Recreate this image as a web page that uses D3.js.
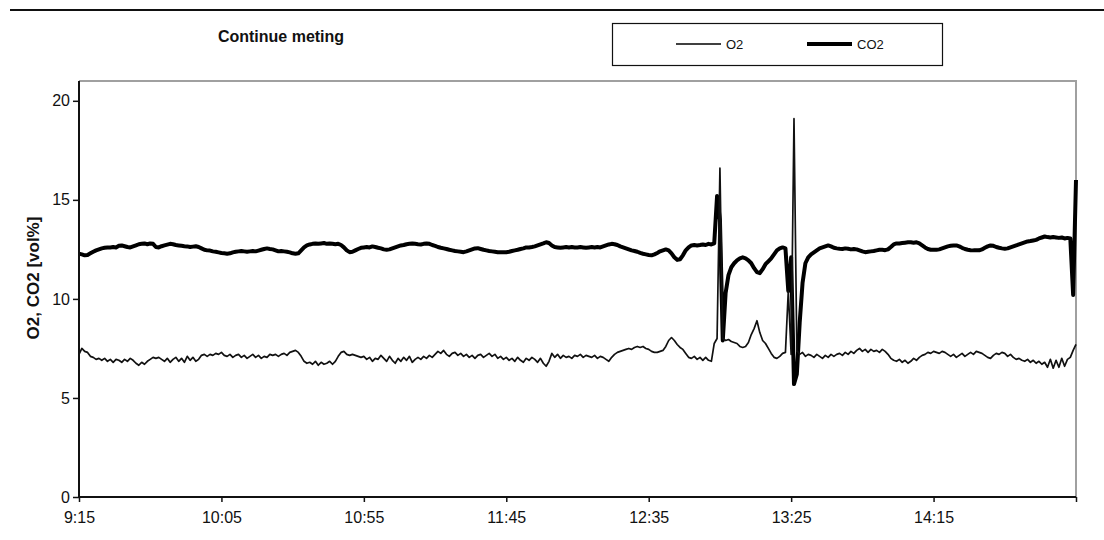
<!DOCTYPE html>
<html>
<head>
    <meta charset="utf-8">
    <title>Continue meting</title>
    <script src="https://d3js.org/d3.v7.min.js"></script>
    <style>
        body { margin: 0; background: #fff; }
        text { font-family: "Liberation Sans", Arial, sans-serif; fill: #111; }
    </style>
</head>

<body>
<div id="chart"></div>
<script type="text/javascript">

    // one reading per minute from 9:15 (minute 0) to 15:05 (minute 350)
    let tickMinutes = [0, 50, 100, 150, 200, 250, 300, 350];
    let tickLabels = ["9:15", "10:05", "10:55", "11:45", "12:35", "13:25", "14:15", ""];
    let yTicks = [0, 5, 10, 15, 20];

    let o2 = [
        7.2, 7.5, 7.35, 7.3, 7.1, 7.05, 6.95, 7.0, 6.9, 7.0, 6.85, 6.95, 6.8, 6.95, 6.9, 6.8, 6.95, 6.85, 7.0, 6.9,
        6.75, 6.65, 6.8, 6.7, 6.85, 6.95, 7.05, 7.0, 7.05, 6.95, 6.85, 7.0, 6.8, 6.95, 7.05, 6.85, 7.0, 6.8, 7.1, 6.9,
        7.05, 6.85, 6.95, 7.15, 7.2, 7.1, 7.2, 7.15, 7.25, 7.2, 7.3, 7.15, 7.1, 7.2, 7.05, 7.15, 7.2, 7.05, 7.15, 7.0,
        7.1, 7.2, 7.05, 7.15, 7.0, 7.1, 7.05, 7.2, 7.15, 7.2, 7.1, 7.2, 7.25, 7.15, 7.3, 7.35, 7.4, 7.3, 7.1, 6.85,
        6.75, 6.8, 6.7, 6.85, 6.65, 6.8, 6.7, 6.75, 6.85, 6.7, 6.85, 7.1, 7.3, 7.35, 7.2, 7.15, 7.2, 7.15, 7.1, 7.05,
        7.1, 6.95, 7.05, 6.85, 7.0, 6.95, 7.15, 7.0, 6.85, 7.1, 6.9, 6.75, 7.0, 6.85, 7.05, 6.9, 7.1, 6.8, 6.95, 7.05,
        6.95, 7.1, 7.0, 7.15, 7.05, 7.2, 7.35, 7.25, 7.4, 7.2, 7.1, 7.25, 7.3, 7.15, 7.25, 7.1, 7.2, 7.05, 7.15, 7.0,
        7.15, 7.2, 7.05, 7.15, 7.25, 7.1, 7.2, 7.0, 7.1, 6.95, 7.05, 6.9, 7.0, 6.85, 7.05, 6.9, 6.8, 7.0, 6.9, 7.05,
        6.95, 6.8, 7.0, 6.75, 6.6, 6.85, 7.25, 7.05, 7.2, 7.0, 7.15, 7.05, 7.1, 7.0, 7.15, 7.1, 7.2, 7.05, 7.15, 7.1,
        7.05, 7.15, 7.0, 7.1, 7.05, 6.95, 6.85, 7.05, 7.2, 7.3, 7.35, 7.4, 7.45, 7.5, 7.45, 7.55, 7.6, 7.55, 7.6, 7.5,
        7.45, 7.35, 7.3, 7.3, 7.35, 7.4, 7.6, 7.9, 8.05, 7.9, 7.7, 7.55, 7.45, 7.25, 7.05, 7.0, 7.1, 6.95, 7.05, 6.9,
        7.05, 6.9, 6.85, 7.75, 8.0, 16.6, 8.0, 7.9, 7.95, 7.85, 7.8, 7.75, 7.6, 7.55, 7.6, 7.8, 8.2, 8.5, 8.9, 8.3,
        7.9, 7.75, 7.5, 7.25, 7.05, 7.0, 7.1, 7.25, 7.3, 10.4, 7.2, 19.1, 7.4, 7.2, 7.3, 7.1, 7.2, 7.15, 7.05, 7.2,
        7.1, 7.0, 7.15, 7.05, 7.2, 7.1, 7.2, 7.25, 7.15, 7.3, 7.2, 7.35, 7.25, 7.4, 7.5, 7.35, 7.45, 7.3, 7.45, 7.35,
        7.4, 7.3, 7.45, 7.35, 7.2, 7.0, 6.9, 6.85, 6.95, 6.8, 6.9, 6.75, 6.85, 7.0, 6.9, 7.05, 7.15, 7.2, 7.3, 7.25,
        7.35, 7.3, 7.25, 7.35, 7.3, 7.2, 7.1, 7.2, 7.05, 7.15, 7.25, 7.1, 7.2, 7.3, 7.2, 7.35, 7.3, 7.25, 7.15, 7.05,
        7.0, 7.15, 7.25, 7.2, 7.3, 7.25, 7.1, 7.2, 7.05, 6.95, 7.0, 6.9, 6.85, 6.95, 6.8, 6.9, 6.75, 6.85, 6.7, 6.8,
        6.55, 6.95, 6.5, 6.9, 6.55, 7.0, 6.6, 6.95, 7.05, 7.4, 7.7
    ];

    let co2 = [
        12.28, 12.25, 12.2, 12.22, 12.3, 12.38, 12.45, 12.5, 12.55, 12.58, 12.6, 12.6, 12.62, 12.6, 12.68, 12.7, 12.66, 12.62, 12.6, 12.65,
        12.7, 12.76, 12.78, 12.8, 12.76, 12.8, 12.78, 12.62, 12.6, 12.66, 12.7, 12.74, 12.78, 12.76, 12.72, 12.7, 12.68, 12.66, 12.65, 12.62,
        12.64, 12.66, 12.62, 12.55, 12.48, 12.45, 12.44, 12.4, 12.38, 12.35, 12.32, 12.3, 12.28, 12.3, 12.35, 12.38, 12.4, 12.42, 12.4, 12.38,
        12.4, 12.42, 12.4, 12.44, 12.48, 12.52, 12.55, 12.52, 12.5, 12.45, 12.4, 12.42, 12.4, 12.38, 12.35, 12.3, 12.28, 12.3, 12.45, 12.6,
        12.7, 12.75, 12.78, 12.8, 12.78, 12.8, 12.82, 12.78, 12.8, 12.78, 12.76, 12.78, 12.72, 12.6, 12.45, 12.36, 12.38, 12.45, 12.52, 12.58,
        12.6, 12.62, 12.6, 12.65, 12.62, 12.58, 12.55, 12.5, 12.48, 12.5, 12.55, 12.6, 12.65, 12.7, 12.72, 12.76, 12.78, 12.8, 12.78, 12.76,
        12.75, 12.78, 12.8, 12.78, 12.72, 12.68, 12.62, 12.58, 12.55, 12.52, 12.48, 12.45, 12.42, 12.4, 12.38, 12.36, 12.4, 12.45, 12.5, 12.55,
        12.56, 12.52, 12.48, 12.45, 12.42, 12.4, 12.38, 12.36, 12.35, 12.36, 12.36, 12.38, 12.42, 12.45, 12.48, 12.52, 12.55, 12.6, 12.6, 12.62,
        12.65, 12.7, 12.75, 12.8, 12.86, 12.82, 12.7, 12.62, 12.6, 12.58, 12.6, 12.62, 12.6, 12.62, 12.6, 12.6, 12.62, 12.6, 12.58, 12.6,
        12.62, 12.6, 12.62, 12.6, 12.65, 12.7, 12.75, 12.78, 12.76, 12.72, 12.65, 12.6, 12.55, 12.5, 12.45, 12.42, 12.38, 12.32, 12.28, 12.25,
        12.22, 12.2, 12.25, 12.32, 12.4, 12.45, 12.5, 12.45, 12.3, 12.1, 11.97, 12.0, 12.2, 12.45, 12.6, 12.7, 12.72, 12.7, 12.72, 12.75,
        12.72, 12.78, 12.75, 12.8, 15.2, 14.0, 7.9, 10.3, 11.2, 11.6, 11.8, 11.95, 12.05, 12.1, 12.05, 11.95, 11.8, 11.55, 11.35, 11.3,
        11.5, 11.75, 11.9, 12.05, 12.25, 12.45, 12.55, 12.6, 12.55, 10.4, 12.1, 5.7, 6.2, 8.8, 10.8, 11.8, 12.1, 12.25, 12.35, 12.45,
        12.55, 12.6, 12.65, 12.7, 12.65, 12.58, 12.55, 12.53, 12.52, 12.55, 12.53, 12.5, 12.52, 12.5, 12.45, 12.4, 12.36, 12.38, 12.4, 12.42,
        12.45, 12.48, 12.48, 12.46, 12.5, 12.62, 12.75, 12.8, 12.8, 12.82, 12.84, 12.86, 12.86, 12.84, 12.86, 12.8, 12.7, 12.6, 12.52, 12.48,
        12.48, 12.48, 12.5, 12.55, 12.6, 12.65, 12.68, 12.7, 12.7, 12.65, 12.58, 12.52, 12.48, 12.46, 12.45, 12.45, 12.45, 12.5, 12.58, 12.65,
        12.7, 12.68, 12.62, 12.58, 12.55, 12.53, 12.55, 12.6, 12.65, 12.7, 12.75, 12.8, 12.85, 12.9, 12.92, 12.95, 12.98, 13.05, 13.1, 13.15,
        13.12, 13.1, 13.12, 13.1, 13.08, 13.1, 13.05, 13.08, 13.05, 10.2, 16.0
    ];

    let W = 1104, H = 540;
    let margin = {top: 81, right: 28, bottom: 43, left: 79};
    let w = W - margin.left - margin.right;
    let h = H - margin.top - margin.bottom;

    let svg = d3.select("#chart")
        .append("svg")
        .attr("width", W)
        .attr("height", H);

    // rule across the top of the page
    svg.append("line")
        .attr("x1", 10).attr("x2", W)
        .attr("y1", 10).attr("y2", 10)
        .attr("stroke", "#111")
        .attr("stroke-width", 2);

    svg.append("text")
        .attr("x", 281)
        .attr("y", 42)
        .attr("text-anchor", "middle")
        .attr("font-size", "16px")
        .attr("font-weight", "bold")
        .text("Continue meting");

    let g = svg.append("g")
        .attr("transform", "translate(" + margin.left + "," + margin.top + ")");

    let xScale = d3.scaleLinear()
        .domain([0, 350])
        .range([0, w]);

    let yScale = d3.scaleLinear()
        .domain([0, 21])
        .range([h, 0]);

    // plot area frame (grey top / right)
    g.append("path")
        .attr("d", "M0,0H" + w + "V" + h)
        .attr("fill", "none")
        .attr("stroke", "#a0a0a0")
        .attr("stroke-width", 2);

    let line = d3.line()
        .x(function(d, i) { return xScale(i); })
        .y(function(d) { return yScale(d); });

    g.append("path")
        .datum(co2)
        .attr("d", line)
        .attr("fill", "none")
        .attr("stroke", "#000")
        .attr("stroke-width", 4)
        .attr("stroke-linejoin", "round");

    g.append("path")
        .datum(o2)
        .attr("d", line)
        .attr("fill", "none")
        .attr("stroke", "#111")
        .attr("stroke-width", 1.7)
        .attr("stroke-linejoin", "round");

    let xAxis = g.append("g")
        .attr("transform", "translate(0," + h + ")")
        .call(d3.axisBottom(xScale)
            .tickValues(tickMinutes)
            .tickSize(5)
            .tickFormat(function(d, i) { return tickLabels[i]; }));

    let yAxis = g.append("g")
        .call(d3.axisLeft(yScale)
            .tickValues(yTicks)
            .tickSize(6)
            .tickFormat(d3.format("d")));

    [xAxis, yAxis].forEach(function(a) {
        a.select(".domain").attr("stroke", "#111").attr("stroke-width", 2);
        a.selectAll(".tick line").attr("stroke", "#111").attr("stroke-width", 1.5);
        a.selectAll(".tick text")
            .attr("font-size", "16px")
            .attr("font-family", "Liberation Sans, Arial, sans-serif")
            .attr("fill", "#111");
    });
    xAxis.selectAll(".tick text").attr("dy", "1.1em");
    yAxis.select(".domain").attr("d", "M0," + h + "V0");
    xAxis.select(".domain").attr("d", "M0,0H" + w);

    svg.append("text")
        .attr("transform", "translate(39,278) rotate(-90)")
        .attr("text-anchor", "middle")
        .attr("font-size", "17px")
        .attr("font-weight", "bold")
        .text("O2, CO2 [vol%]");

    // legend
    let legend = svg.append("g");
    legend.append("rect")
        .attr("x", 612.5).attr("y", 23.5)
        .attr("width", 330).attr("height", 42)
        .attr("fill", "#fff")
        .attr("stroke", "#111")
        .attr("stroke-width", 1.2);

    let legendItems = [
        {name: "O2", x: 676, width: 1.7},
        {name: "CO2", x: 807, width: 4}
    ];
    legend.selectAll(".item-line")
        .data(legendItems)
        .enter()
        .append("line")
        .attr("x1", function(d) { return d.x; })
        .attr("x2", function(d) { return d.x + 45; })
        .attr("y1", 44).attr("y2", 44)
        .attr("stroke", "#000")
        .attr("stroke-width", function(d) { return d.width; });
    legend.selectAll(".item-text")
        .data(legendItems)
        .enter()
        .append("text")
        .attr("x", function(d) { return d.x + 50; })
        .attr("y", 49)
        .attr("font-size", "13px")
        .text(function(d) { return d.name; });

</script>
</body>
</html>
